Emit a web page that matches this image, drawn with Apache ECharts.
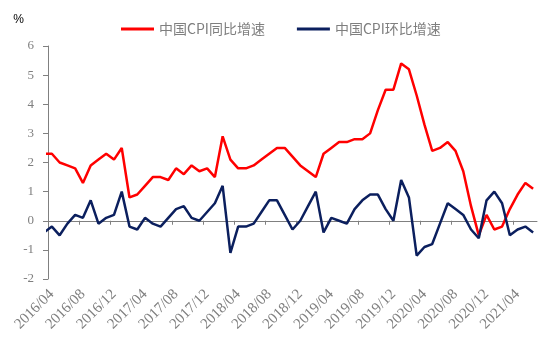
<!DOCTYPE html>
<html>
<head>
<meta charset="utf-8">
<script src="https://cdn.jsdelivr.net/npm/echarts@6/dist/echarts.min.js"></script>
<style>
  html, body { margin: 0; padding: 0; background: #fff; }
  #chartLine { width: 558px; height: 353px; }
</style>
</head>
<body>
<div id="chartLine"></div>
<script>
  // 月份：2016/03 - 2021/06
  var months = [
    '2016/03','2016/04','2016/05','2016/06','2016/07','2016/08','2016/09','2016/10','2016/11','2016/12',
    '2017/01','2017/02','2017/03','2017/04','2017/05','2017/06','2017/07','2017/08','2017/09','2017/10','2017/11','2017/12',
    '2018/01','2018/02','2018/03','2018/04','2018/05','2018/06','2018/07','2018/08','2018/09','2018/10','2018/11','2018/12',
    '2019/01','2019/02','2019/03','2019/04','2019/05','2019/06','2019/07','2019/08','2019/09','2019/10','2019/11','2019/12',
    '2020/01','2020/02','2020/03','2020/04','2020/05','2020/06','2020/07','2020/08','2020/09','2020/10','2020/11','2020/12',
    '2021/01','2021/02','2021/03','2021/04','2021/05','2021/06'
  ];
  // 同比
  var cpiYoy = [
    2.3, 2.3, 2.0, 1.9, 1.8, 1.3, 1.9, 2.1, 2.3, 2.1,
    2.5, 0.8, 0.9, 1.2, 1.5, 1.5, 1.4, 1.8, 1.6, 1.9, 1.7, 1.8,
    1.5, 2.9, 2.1, 1.8, 1.8, 1.9, 2.1, 2.3, 2.5, 2.5, 2.2, 1.9,
    1.7, 1.5, 2.3, 2.5, 2.7, 2.7, 2.8, 2.8, 3.0, 3.8, 4.5, 4.5,
    5.4, 5.2, 4.3, 3.3, 2.4, 2.5, 2.7, 2.4, 1.7, 0.5, -0.5, 0.2,
    -0.3, -0.2, 0.4, 0.9, 1.3, 1.1
  ];
  // 环比
  var cpiMom = [
    -0.4, -0.2, -0.5, -0.1, 0.2, 0.1, 0.7, -0.1, 0.1, 0.2,
    1.0, -0.2, -0.3, 0.1, -0.1, -0.2, 0.1, 0.4, 0.5, 0.1, 0.0, 0.3,
    0.6, 1.2, -1.1, -0.2, -0.2, -0.1, 0.3, 0.7, 0.7, 0.2, -0.3, 0.0,
    0.5, 1.0, -0.4, 0.1, 0.0, -0.1, 0.4, 0.7, 0.9, 0.9, 0.4, 0.0,
    1.4, 0.8, -1.2, -0.9, -0.8, -0.1, 0.6, 0.4, 0.2, -0.3, -0.6, 0.7,
    1.0, 0.6, -0.5, -0.3, -0.2, -0.4
  ];
  var yTicks = [-2, -1, 0, 1, 2, 3, 4, 5, 6];

  // 标签每4个月一个（从2016/04开始），刻度在类别之间
  var labelPos = [];
  var tickPos = [];
  for (var k = 1; k < months.length; k += 4) {
    labelPos.push(k);
    tickPos.push(k - 0.5);
  }
  function toPairs(arr) {
    return arr.map(function (v, i) { return [i, v]; });
  }

  var labelFont = '"Liberation Serif", "Times New Roman", serif';
  var chartLine = echarts.init(document.getElementById('chartLine'));
  chartLine.setOption({
    animation: false,
    legend: {
      top: 17,
      left: 116,
      icon: 'rect',
      itemWidth: 33,
      itemHeight: 3,
      itemGap: 32,
      textStyle: {
        color: '#7f7f7f',
        fontSize: 14,
        fontFamily: '"Noto Sans CJK SC", sans-serif'
      },
      data: ['中国CPI同比增速', '中国CPI环比增速']
    },
    grid: {
      left: 48,
      right: 21,
      top: 46,
      bottom: 74
    },
    xAxis: [
      {
        type: 'value',
        min: 0.5,
        max: months.length - 0.5,
        axisLine: { onZero: true, lineStyle: { color: '#808080', width: 1 } },
        axisTick: { show: true, customValues: tickPos, length: 4, lineStyle: { color: '#808080' } },
        axisLabel: { show: false },
        splitLine: { show: false }
      },
      {
        type: 'value',
        position: 'bottom',
        min: 0.5,
        max: months.length - 0.5,
        axisLine: { show: false, onZero: false },
        axisTick: { show: false },
        splitLine: { show: false },
        axisLabel: {
          customValues: labelPos,
          rotate: 45,
          margin: 13,
          color: '#7f7f7f',
          fontSize: 15,
          fontFamily: labelFont,
          formatter: function (v) {
            return months[Math.round(v)] || '';
          }
        }
      }
    ],
    yAxis: {
      type: 'value',
      min: yTicks[0],
      max: yTicks[yTicks.length - 1],
      interval: 1,
      name: '%',
      nameGap: 20,
      nameTextStyle: {
        color: '#000',
        fontSize: 12,
        fontFamily: '"Liberation Sans", Arial, sans-serif',
        align: 'right',
        padding: [0, 24, 0, 0]
      },
      axisLine: { show: true, lineStyle: { color: '#808080', width: 1 } },
      axisTick: { show: true, length: 5, lineStyle: { color: '#808080' } },
      axisLabel: {
        margin: 14,
        color: '#7f7f7f',
        fontSize: 13,
        fontFamily: labelFont
      },
      splitLine: { show: false }
    },
    series: [
      {
        name: '中国CPI同比增速',
        type: 'line',
        symbol: 'none',
        color: '#ff0000',
        lineStyle: { width: 2.5, color: '#ff0000' },
        data: toPairs(cpiYoy)
      },
      {
        name: '中国CPI环比增速',
        type: 'line',
        symbol: 'none',
        color: '#0b1f5e',
        lineStyle: { width: 2.5, color: '#0b1f5e' },
        data: toPairs(cpiMom)
      }
    ]
  });
</script>
</body>
</html>
